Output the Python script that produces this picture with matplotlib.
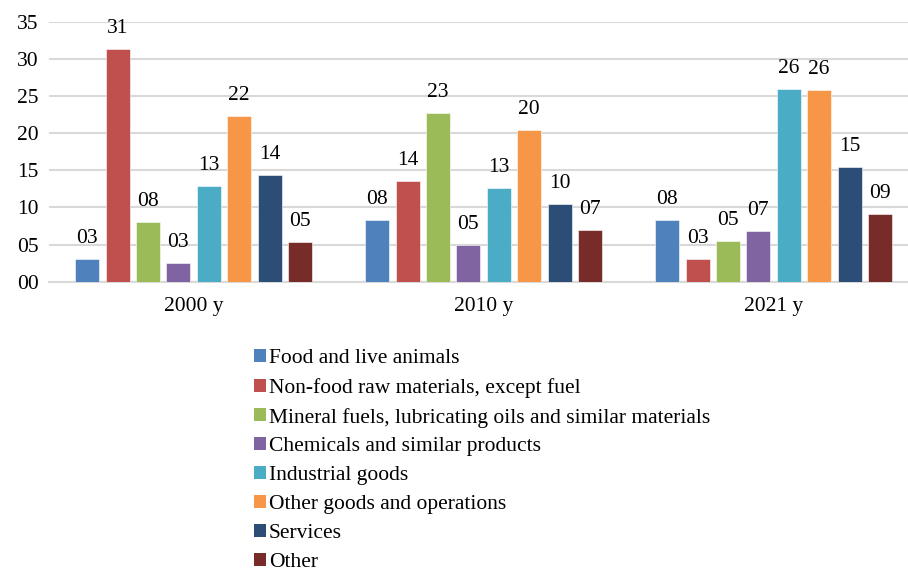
import matplotlib
matplotlib.use("Agg")
import matplotlib.pyplot as plt
from matplotlib.patches import Patch
import numpy as np

plt.rcParams['font.family'] = ['Liberation Serif', 'DejaVu Serif']

categories = ["2000 y", "2010 y", "2021 y"]
series_names = [
    "Food and live animals",
    "Non-food raw materials, except fuel",
    "Mineral fuels, lubricating oils and similar materials",
    "Chemicals and similar products",
    "Industrial goods",
    "Other goods and operations",
    "Services",
    "Other",
]
food = [3.05, 8.26, 8.26]
nonfood = [31.3, 13.5, 3.05]
mineral = [8.03, 22.7, 5.48]
chemicals = [2.56, 4.94, 6.82]
industrial = [12.84, 12.6, 25.98]
other_goods = [22.3, 20.46, 25.8]
services = [14.36, 10.4, 15.48]
other = [5.3, 6.96, 9.1]
yticks = [0, 5, 10, 15, 20, 25, 30, 35]
ytick_labels = ["00", "05", "10", "15", "20", "25", "30", "35"]

series = [food, nonfood, mineral, chemicals, industrial, other_goods, services, other]
colors = ["#4F81BD", "#C0504D", "#9BBB59", "#8064A2", "#4BACC6", "#F79646", "#2C4D75", "#772C2A"]

FS = 15.5
W, H = 908, 572
fig = plt.figure(figsize=(W / 100, H / 100), dpi=100)
left_px, right_px = 48.5, 908
bottom_px, top_px = 281.7, 21.7
ax = fig.add_axes([left_px / W, (H - bottom_px) / H, (right_px - left_px) / W, (bottom_px - top_px) / H])

cat_w = 290.0
x = np.arange(len(categories))
step = 30.4 / cat_w
bw = 24.0 / cat_w
n = len(series)
for i, (vals, c) in enumerate(zip(series, colors)):
    xs = x + (i - (n - 1) / 2) * step
    ax.bar(xs, vals, width=bw, color=c, edgecolor="white", linewidth=0.4, zorder=3)
    for xx, v in zip(xs, vals):
        ax.annotate(f"{round(v):02d}", (xx, v), xytext=(0, 11.5), textcoords="offset points",
                    ha="center", va="baseline", fontsize=FS, color="#000000")

ax.set_xlim(-0.5, -0.5 + (right_px - left_px) / cat_w)
ax.set_ylim(0, 35)
ax.set_yticks(yticks)
ax.set_yticklabels(ytick_labels, fontsize=FS)
ax.set_xticks(x)
ax.set_xticklabels(categories, fontsize=FS)
ax.tick_params(axis="both", length=0)
ax.tick_params(axis="y", pad=7)
ax.tick_params(axis="x", pad=11)
for s in ["top", "right", "left"]:
    ax.spines[s].set_visible(False)
ax.spines["bottom"].set_color("#d9d9d9")
ax.spines["bottom"].set_linewidth(1.5)
ax.yaxis.grid(True, color="#d9d9d9", linewidth=1.5, zorder=0)
ax.set_axisbelow(True)

handles = [Patch(facecolor=c, edgecolor="none") for c in colors]
fig.legend(handles, series_names, loc="upper left", bbox_to_anchor=(254 / W, 1 - 349 / H),
           frameon=False, fontsize=FS, handlelength=0.55, handleheight=0.55,
           handletextpad=0.15, labelspacing=0.455, borderaxespad=0, borderpad=0)

fig.savefig("out.png", dpi=100)
